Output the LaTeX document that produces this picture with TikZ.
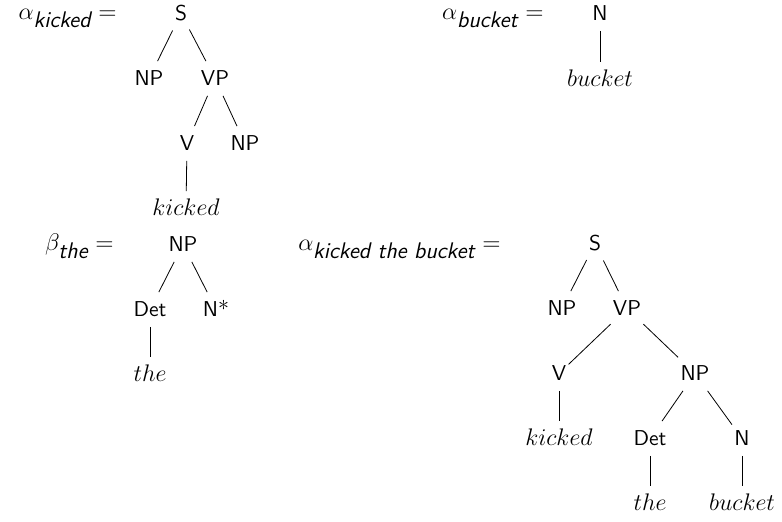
\documentclass[tikz,border=0pt]{standalone}
\usepackage{amsmath}
\usepackage{amssymb}
\usepackage{tikz}

\newcommand{\lexsub}[1]{\mbox{\fontsize{11.3pt}{13pt}\selectfont\sffamily\itshape #1}}

\begin{document}
\begin{tikzpicture}[
			     x=0.5pt, y=-0.5pt,
			     font=\fontsize{12pt}{14pt}\selectfont,
			     cat/.style={font=\fontsize{10.75pt}{13pt}\selectfont\sffamily, anchor=base, text height=7.5pt, text depth=0pt, inner xsep=1pt, inner ysep=4.75pt},
			     word/.style={cat, font=\fontsize{12pt}{14pt}\selectfont},
			     lbl/.style={anchor=base east, inner sep=0pt}
			     ]
\useasboundingbox (0,0) rectangle (782,522);
% alpha kicked
\node[lbl] (a-kicked) at (117,20) {$\alpha_{\lexsub{kicked}} =$};
\node[cat] (k-S) at (181,21) {S};
\node[cat] (k-NP) at (149,86) {NP};
\node[cat] (k-VP) at (215,86) {VP};
\node[cat] (k-V) at (187,151) {V};
\node[cat] (k-NP2) at (245,151) {NP};
\node[word] (k-w) at (186,216) {$kicked$};
\path (k-S) edge (k-NP);
\path (k-S) edge (k-VP);
\path (k-VP) edge (k-V);
\path (k-VP) edge (k-NP2);
\path (k-V) edge (k-w);
% alpha bucket
\node[lbl] (a-bucket) at (544,20) {$\alpha_{\lexsub{bucket}} =$};
\node[cat] (b-N) at (600,21) {N};
\node[word] (b-w) at (600,87) {$bucket$};
\path (b-N) edge (b-w);
% beta the
\node[lbl] (b-the) at (114,251) {$\beta_{\lexsub{the}} =$};
\node[cat] (t-NP) at (183,252) {NP};
\node[cat] (t-Det) at (150,317) {Det};
\node[cat] (t-N) at (216,317) {N\raisebox{3.3pt}{$\ast$}};
\node[word] (t-w) at (150,382) {$the$};
\path (t-NP) edge (t-Det);
\path (t-NP) edge (t-N);
\path (t-Det) edge (t-w);
% alpha kicked the bucket
\node[lbl] (a-ktb) at (501,251) {$\alpha_{\lexsub{kicked the bucket}} =$};
\node[cat] (x-S) at (595,251) {S};
\node[cat] (x-NP) at (562,316) {NP};
\node[cat] (x-VP) at (627,316) {VP};
\node[cat] (x-V) at (559,381) {V};
\node[cat] (x-NP2) at (695,381) {NP};
\node[word] (x-kicked) at (559,446) {$kicked$};
\node[cat] (x-Det) at (650,446) {Det};
\node[cat] (x-N) at (742,446) {N};
\node[word] (x-the) at (650,511) {$the$};
\node[word] (x-bucket) at (742,511) {$bucket$};
\path (x-S) edge (x-NP);
\path (x-S) edge (x-VP);
\path (x-VP) edge (x-V);
\path (x-VP) edge (x-NP2);
\path (x-V) edge (x-kicked);
\path (x-NP2) edge (x-Det);
\path (x-NP2) edge (x-N);
\path (x-Det) edge (x-the);
\path (x-N) edge (x-bucket);
\end{tikzpicture}
\end{document}
